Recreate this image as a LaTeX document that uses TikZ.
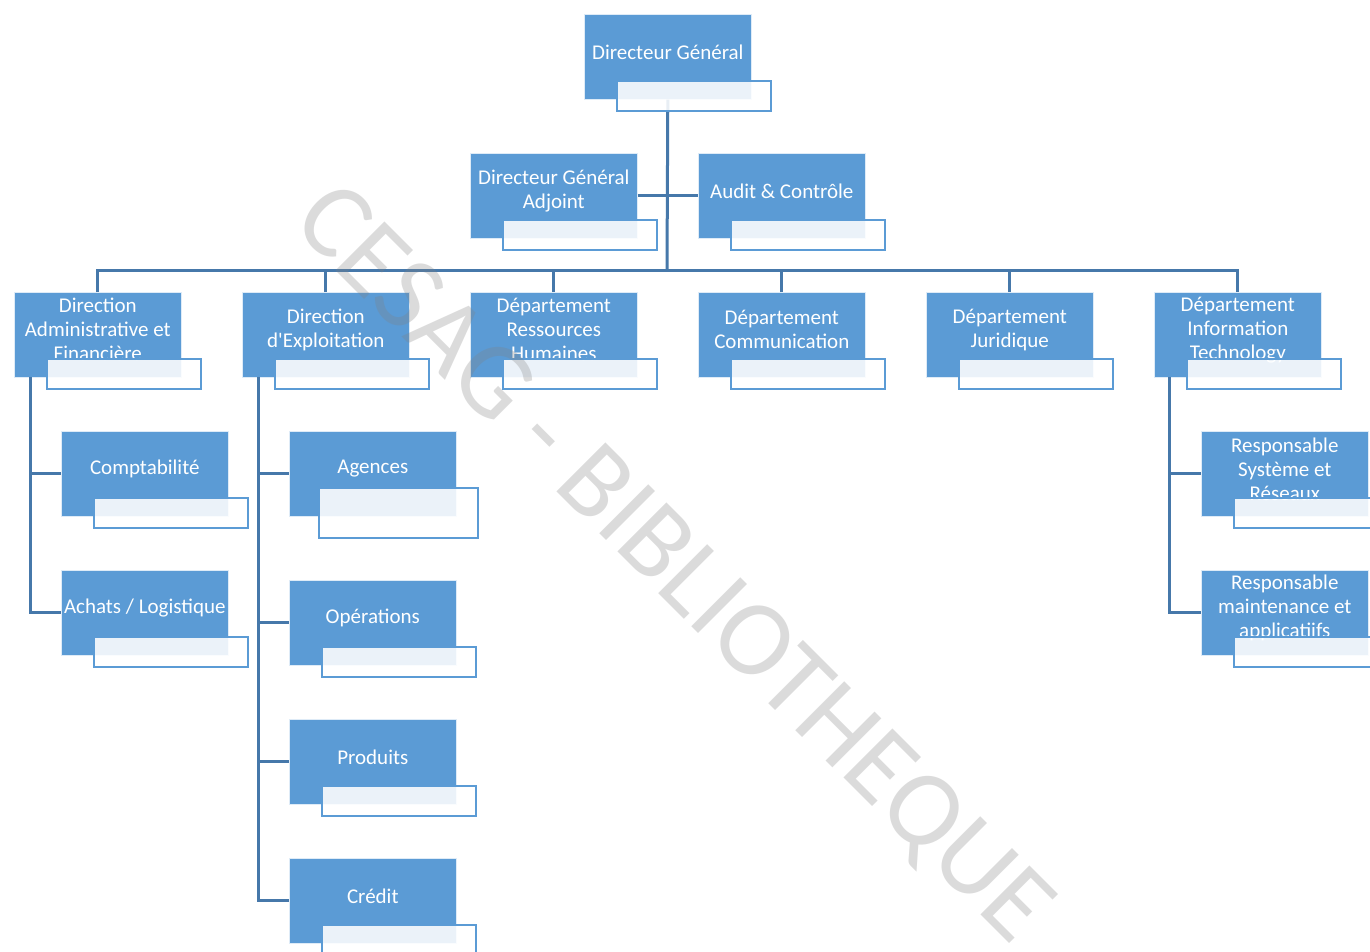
\documentclass[tikz,border=0pt]{standalone}
\usepackage{fontspec}
\setmainfont{Carlito}
\usetikzlibrary{calc}
\definecolor{boxblue}{RGB}{91,155,213}
\definecolor{lineblue}{RGB}{70,120,170}
\newcommand\sq{\XeTeXglyph\the\XeTeXcharglyph"0027\relax}
\tikzset{
  bluebox/.style={fill=boxblue, draw=white!80!boxblue, line width=0.6pt, inner sep=0pt, minimum width=167pt, minimum height=85pt, anchor=north west},
  boxtxt/.style={text=white, align=center, inner sep=0pt, font=\fontsize{21}{24}\selectfont},
  secbox/.style={draw=boxblue, line width=2pt, fill=white, fill opacity=0.88, inner sep=0pt, minimum width=154pt, minimum height=30pt, anchor=north west},
  conn/.style={draw=lineblue, line width=3pt},
  wmark/.style={text=black!50, text opacity=0.28, rotate=-45, font=\fontsize{108}{112}\selectfont, inner sep=0pt}
}
\newcommand\obox[4]{%
  \node[bluebox] (#1) at (#2,#3) {};
  \node[boxtxt, yshift=5pt] (#1-t) at (#1.center) {#4};
}
\newcommand\osec[1]{%
  \node[secbox] (#1-s) at ($(#1.north west)+(32,66)$) {};
}
\begin{document}
\begin{tikzpicture}[x=1pt,y=-1pt]
\useasboundingbox (0,0) rectangle (1370,952);
\clip (0,0) rectangle (1370,952);
\fill[white] (0,0) rectangle (1370,952);
% blue boxes with text
\obox{dg}{584}{14}{Directeur Général}
\obox{dga}{470}{153}{Directeur Général\\Adjoint}
\obox{audit}{698}{153}{Audit \& Contrôle}
\obox{daf}{14}{292}{Direction\\Administrative et\\Financière}
\obox{dexp}{242}{292}{Direction\\d\sq Exploitation}
\obox{drh}{470}{292}{Département\\Ressources\\Humaines}
\obox{dcom}{698}{292}{Département\\Communication}
\obox{djur}{926}{292}{Département\\Juridique}
\obox{dit}{1154}{292}{Département\\Information\\Technology}
\obox{compta}{61}{431}{Comptabilité}
\obox{achats}{61}{570}{Achats / Logistique}
\obox{agences}{289}{431}{Agences}
\obox{oper}{289}{580}{Opérations}
\obox{prod}{289}{719}{Produits}
\obox{credit}{289}{858}{Crédit}
\obox{rsr}{1201}{431}{Responsable\\Système et\\Réseaux}
\obox{rma}{1201}{570}{Responsable\\maintenance et\\applicatiifs}
% connectors
\coordinate (bus) at (667,270);
\draw[conn] (dg.south) -- (bus);
\draw[conn] (dga.east) -- (audit.west);
\draw[conn] (daf.north) -- (daf.north |- bus) -| (dit.north);
\foreach \n in {dexp,drh,dcom,djur}{\draw[conn] (\n.north) -- (\n.north |- bus);}
\coordinate (dafsp) at (30,377);
\draw[conn] (dafsp) |- (achats.west);
\draw[conn] (dafsp |- compta.west) -- (compta.west);
\coordinate (dexpsp) at (258,377);
\draw[conn] (dexpsp) |- (credit.west);
\foreach \n in {agences,oper,prod}{\draw[conn] (dexpsp |- \n.west) -- (\n.west);}
\coordinate (ditsp) at (1169,377);
\draw[conn] (ditsp) |- (rma.west);
\draw[conn] (ditsp |- rsr.west) -- (rsr.west);
% secondary boxes
\foreach \n in {dg,dga,audit,daf,dexp,drh,dcom,djur,dit,compta,achats,oper,prod,credit,rsr,rma}{\osec{\n}}
\node[secbox, minimum width=159pt, minimum height=50pt] (agences-s) at ($(agences.north west)+(29,56)$) {};
% watermark
\node[wmark] (wm) at (671,566) {CESAG - BIBLIOTHEQUE};
\end{tikzpicture}
\end{document}
